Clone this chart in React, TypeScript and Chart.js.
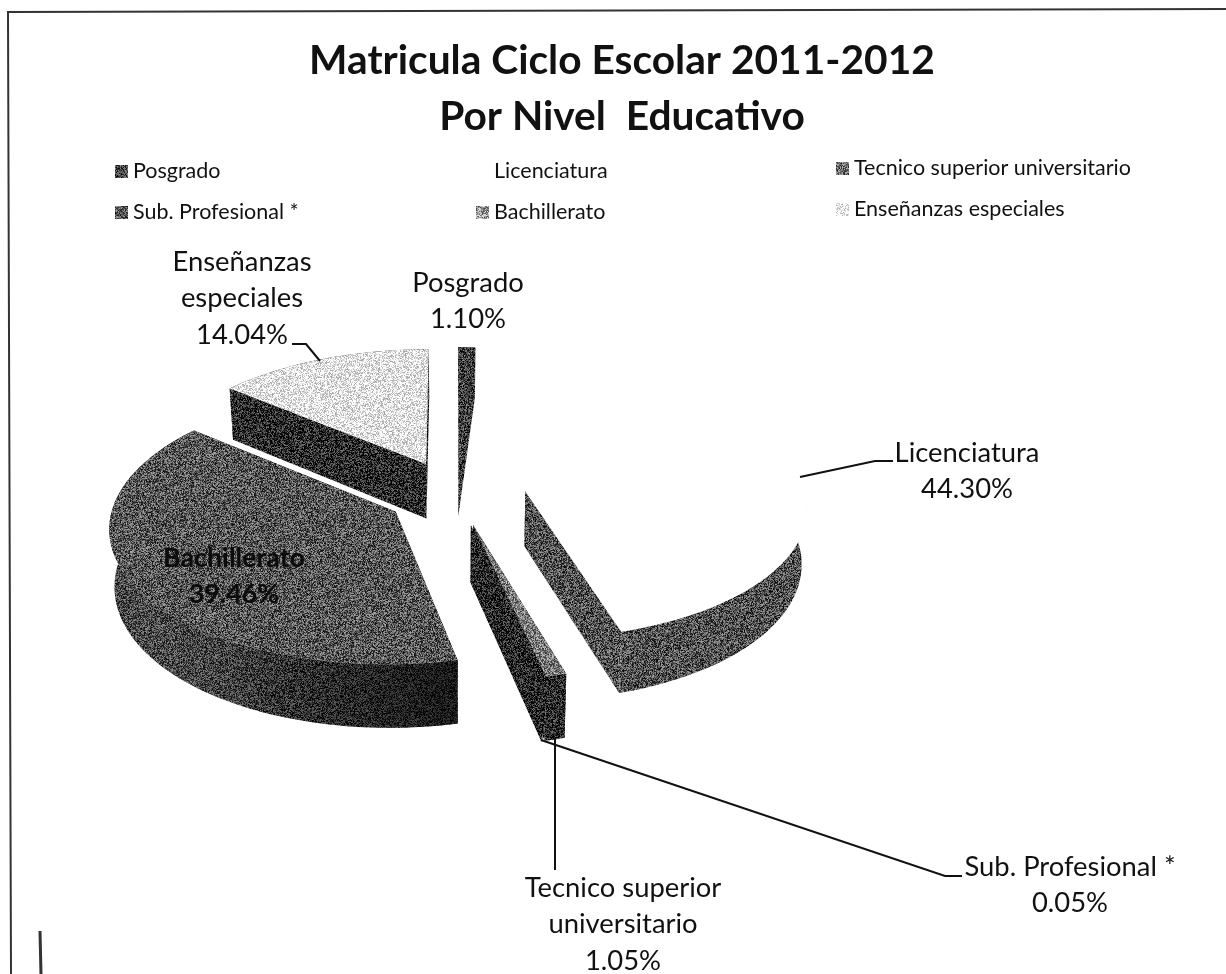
import React, { useEffect, useRef } from "react";
import { Chart, registerables } from "chart.js";

Chart.register(...registerables);

const categories = ["Posgrado", "Licenciatura", "Tecnico superior universitario", "Sub. Profesional *", "Bachillerato", "Enseñanzas especiales"];
const shares = [1.1, 44.3, 1.05, 0.05, 39.46, 14.04];
const explode = [70, 70, 66, 66, 70, 72];
const faceGrays = [62, 255, 125, 70, 88, 232];
const wallGrays = [58, 82, 38, 30, 62, 42];
const legendGrays = [70, 255, 105, 85, 150, 238];
const labelLines = [["Posgrado"], ["Licenciatura"], ["Tecnico superior", "universitario"], ["Sub. Profesional *"], ["Bachillerato"], ["Enseñanzas", "especiales"]];
const titleLines = ["Matricula Ciclo Escolar 2011-2012", "Por Nivel  Educativo"];

const W = 1226;
const H = 974;
const CX = 456;
const CY = 494;
const FOCAL = 2670;
const TILT = 0.474;
const DEPTH = 56;
const FONT = "Lato, Carlito, 'Open Sans', sans-serif";

const noiseCache = new Map<number, HTMLCanvasElement>();
function noiseTile(gray: number) {
  const hit = noiseCache.get(gray);
  if (hit) return hit;
  const c = document.createElement("canvas");
  c.width = c.height = 160;
  const g = c.getContext("2d")!;
  const img = g.createImageData(160, 160);
  let s = 12345 + gray * 7;
  const amp = gray > 200 ? 70 : 80;
  for (let i = 0; i < img.data.length; i += 4) {
    s = (s * 1103515245 + 12345) & 0x7fffffff;
    const r = ((s >> 8) & 0xffff) / 65535;
    const v = gray >= 250 ? 255 : Math.min(255, Math.max(0, gray + (r - 0.5) * 2 * amp));
    img.data[i] = img.data[i + 1] = img.data[i + 2] = v;
    img.data[i + 3] = 255;
  }
  g.putImageData(img, 0, 0);
  noiseCache.set(gray, c);
  return c;
}
const fillOf = (ctx: CanvasRenderingContext2D, gray: number) => ctx.createPattern(noiseTile(gray), "repeat")!;

function project(x: number, y: number, z = 0) {
  const w = 1 / (1 - y / FOCAL);
  const sx = CX + x * w;
  const sy = CY + y * TILT * w;
  if (!z) return [sx, sy];
  return [CX + (sx - CX) * 0.985, sy + DEPTH * w];
}

function trace(ctx: CanvasRenderingContext2D, pts: number[][]) {
  pts.forEach((p, i) => (i ? ctx.lineTo(p[0], p[1]) : ctx.moveTo(p[0], p[1])));
  ctx.closePath();
}

function poly(ctx: CanvasRenderingContext2D, pts: number[][], fill: any, stroke?: string) {
  ctx.beginPath();
  trace(ctx, pts);
  ctx.fillStyle = fill;
  ctx.fill();
  if (stroke) {
    ctx.strokeStyle = stroke;
    ctx.lineWidth = 1.5;
    ctx.stroke();
  }
}

function strip(ctx: CanvasRenderingContext2D, top: number[][], bot: number[][], fill: any) {
  ctx.beginPath();
  for (let k = 0; k < top.length - 1; k++) {
    trace(ctx, [top[k], top[k + 1], bot[k + 1], bot[k]]);
  }
  ctx.fillStyle = fill;
  ctx.fill();
}

const pie3d = {
  id: "pie3d",
  beforeDatasetsDraw(chart: any) {
    const ctx: CanvasRenderingContext2D = chart.ctx;
    const meta = chart.getDatasetMeta(0);
    const order = [5, 0, 1, 4, 3, 2];
    ctx.save();
    for (const i of order) {
      const el = meta.data[i];
      const { startAngle, endAngle, outerRadius } = el.getProps(["startAngle", "endAngle", "outerRadius"], true);
      const d = el.options.offset;
      const mid = (startAngle + endAngle) / 2;
      const ax = Math.cos(mid) * d;
      const ay = Math.sin(mid) * d;
      const steps = Math.max(2, Math.ceil((endAngle - startAngle) * 40));
      const world: number[][] = [];
      for (let k = 0; k <= steps; k++) {
        const a = startAngle + ((endAngle - startAngle) * k) / steps;
        world.push([ax + Math.cos(a) * outerRadius, ay + Math.sin(a) * outerRadius]);
      }
      const top = world.map((p) => project(p[0], p[1]));
      const bot = world.map((p) => project(p[0], p[1], 1));
      const wall = fillOf(ctx, wallGrays[i]);
      const apexT = project(ax, ay);
      const apexB = project(ax, ay, 1);
      poly(ctx, [apexT, top[0], bot[0], apexB], wall);
      poly(ctx, [apexT, top[steps], bot[steps], apexB], wall);
      strip(ctx, top, bot, wall);
      if (i === 4) {
        const g = ctx.createLinearGradient(110, 0, 460, 0);
        g.addColorStop(0, "rgba(255,255,255,0.05)");
        g.addColorStop(0.5, "rgba(0,0,0,0.2)");
        g.addColorStop(1, "rgba(0,0,0,0.62)");
        strip(ctx, top, bot, g);
      }
      poly(ctx, [apexT, ...top], fillOf(ctx, faceGrays[i]), i === 1 ? "#fff" : undefined);
    }
    ctx.restore();
    return false;
  },
  afterDraw(chart: any) {
    const ctx: CanvasRenderingContext2D = chart.ctx;
    ctx.save();
    // scanned page frame: top and left edges only
    ctx.strokeStyle = "#333";
    ctx.lineWidth = 2;
    ctx.beginPath();
    ctx.moveTo(11, H);
    ctx.lineTo(8, 12);
    ctx.lineTo(W, 9);
    ctx.stroke();
    ctx.lineWidth = 3;
    ctx.beginPath();
    ctx.moveTo(40, 931);
    ctx.lineTo(41, H);
    ctx.stroke();

    // leader lines
    ctx.strokeStyle = "#111";
    ctx.lineWidth = 2;
    const leaders = [
      [[292, 344], [306, 344], [320, 361]],
      [[800, 477], [875, 461], [893, 461]],
      [[555, 738], [555, 870]],
      [[541, 740], [945, 876], [962, 876]],
    ];
    for (const l of leaders) {
      ctx.beginPath();
      l.forEach((p, i) => (i ? ctx.lineTo(p[0], p[1]) : ctx.moveTo(p[0], p[1])));
      ctx.stroke();
    }

    // legend
    ctx.textBaseline = "middle";
    ctx.textAlign = "left";
    ctx.font = `21.5px ${FONT}`;
    const legendPos = [
      [115, 171], [476, 171], [836, 168],
      [115, 212], [476, 212], [836, 209],
    ];
    categories.forEach((name, i) => {
      const [x, y] = legendPos[i];
      if (legendGrays[i] < 255) {
        ctx.fillStyle = fillOf(ctx, legendGrays[i]);
        ctx.fillRect(x, y - 6, 13, 13);
      }
      ctx.fillStyle = "#111";
      ctx.fillText(name, x + 18, y);
    });

    // data labels
    ctx.textAlign = "center";
    const labelPos = [
      [468, 283],
      [967, 453],
      [623, 888],
      [1070, 867],
      [234, 558],
      [242, 262],
    ];
    categories.forEach((_, i) => {
      const lines = [...labelLines[i], `${shares[i].toFixed(2)}%`];
      lines.forEach((t, k) => {
        ctx.font = i === 4 ? `bold 26.8px ${FONT}` : `27.4px ${FONT}`;
        ctx.fillStyle = i === 4 ? "#0c0c0c" : "#111";
        ctx.fillText(t, labelPos[i][0], labelPos[i][1] + k * 36.6);
      });
    });
    ctx.restore();
  },
};

export default function App() {
  const ref = useRef<HTMLCanvasElement>(null);
  useEffect(() => {
    document.body.style.margin = "0";
    const chart = new Chart(ref.current!, {
      type: "pie",
      data: {
        labels: categories,
        datasets: [
          {
            data: shares,
            offset: explode,
            borderWidth: 0,
            backgroundColor: faceGrays.map((g) => `rgb(${g},${g},${g})`),
          },
        ],
      },
      options: {
        responsive: false,
        animation: false,
        radius: 280,
        layout: { padding: { left: 18, top: 33 } },
        plugins: {
          legend: { display: false },
          tooltip: { enabled: false },
          title: {
            display: true,
            text: titleLines,
            color: "#111",
            font: { family: FONT, size: 40.7, weight: "bold", lineHeight: 1.37 },
            padding: 0,
          },
        },
      } as any,
      plugins: [pie3d as any],
    });
    return () => chart.destroy();
  }, []);
  return <canvas ref={ref} width={W} height={H} style={{ display: "block", background: "#fff" }} />;
}
